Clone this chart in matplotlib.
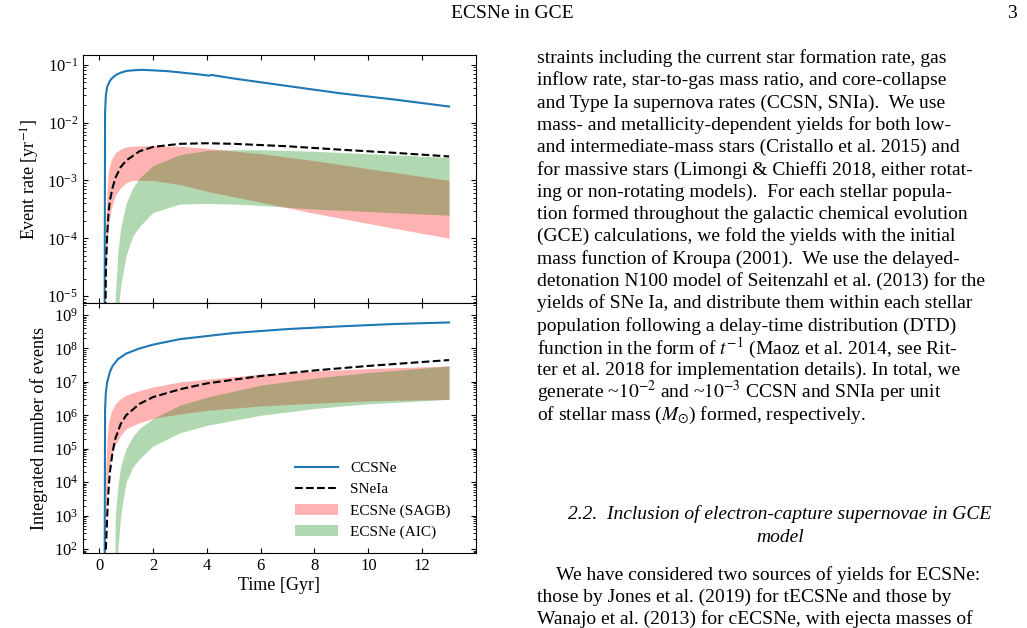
import numpy as np
import matplotlib
matplotlib.use("Agg")
import matplotlib.pyplot as plt
from matplotlib.ticker import LogLocator, NullFormatter

plt.rcParams['font.family'] = ['Liberation Serif', 'DejaVu Serif']
plt.rcParams['mathtext.fontset'] = 'stix'

# ---- data ----
cc_t = [0.2, 0.22, 0.25, 0.3, 0.4, 0.5, 0.65, 0.8, 1.0, 1.2, 1.6, 2.5, 3.5, 4.1, 4.15, 5, 7, 9, 11, 13]
cc_r = [1e-6, 1.5e-2, 3e-2, 4.2e-2, 5.3e-2, 6e-2, 6.8e-2, 7.3e-2, 7.8e-2, 8e-2, 8.2e-2, 7.8e-2, 7e-2, 6.5e-2, 6.7e-2, 5.8e-2, 4.3e-2, 3.2e-2, 2.5e-2, 1.9e-2]
ia_t = [0.22, 0.25, 0.3, 0.35, 0.4, 0.5, 0.6, 0.8, 1.0, 1.5, 2.0, 3.0, 4.0, 5.0, 7.0, 9.0, 11.0, 13.0]
ia_r = [1e-6, 3e-5, 1.2e-4, 2.8e-4, 4.5e-4, 7.5e-4, 1.1e-3, 1.7e-3, 2.2e-3, 3.2e-3, 3.8e-3, 4.3e-3, 4.4e-3, 4.3e-3, 3.9e-3, 3.4e-3, 3.0e-3, 2.6e-3]
sagb_t = [0.2, 0.22, 0.25, 0.3, 0.35, 0.45, 0.6, 0.8, 1.0, 1.2, 2, 3, 4, 6, 8, 10, 13]
sagb_hi = [1e-6, 1e-5, 2e-4, 8e-4, 1.5e-3, 2.3e-3, 3e-3, 3.5e-3, 3.8e-3, 3.9e-3, 4e-3, 3.9e-3, 3.6e-3, 2.9e-3, 2.2e-3, 1.6e-3, 1e-3]
sagb_lo = [1e-6, 3e-6, 2e-5, 8e-5, 1.7e-4, 3.3e-4, 5.5e-4, 7.5e-4, 9e-4, 1e-3, 1e-3, 8.5e-4, 6.5e-4, 4.2e-4, 2.7e-4, 1.8e-4, 1e-4]
aic_t = [0.55, 0.6, 0.7, 0.8, 1.0, 1.25, 1.5, 2, 3, 4, 5, 6, 8, 10, 13]
aic_hi = [1e-6, 1e-5, 6e-5, 1.5e-4, 4e-4, 7.5e-4, 1.1e-3, 1.8e-3, 2.8e-3, 3.3e-3, 3.4e-3, 3.4e-3, 3.2e-3, 2.9e-3, 2.5e-3]
aic_lo = [1e-6, 1e-6, 5e-6, 1.5e-5, 5e-5, 1.1e-4, 1.6e-4, 2.8e-4, 3.9e-4, 4e-4, 3.9e-4, 3.7e-4, 3.2e-4, 2.9e-4, 2.5e-4]

ccN_t = [0.2, 0.22, 0.25, 0.3, 0.4, 0.5, 0.7, 1, 1.5, 2, 3, 5, 7, 9, 11, 13]
ccN = [1, 1.5e6, 5e6, 1e7, 2e7, 3e7, 4.8e7, 7e7, 1e8, 1.3e8, 1.9e8, 2.9e8, 3.8e8, 4.6e8, 5.4e8, 6e8]
iaN_t = [0.23, 0.25, 0.3, 0.35, 0.4, 0.5, 0.6, 0.8, 1, 1.5, 2, 3, 4, 6, 8, 10, 13]
iaN = [1, 1e2, 1e3, 6e3, 2e4, 8e4, 2e5, 5.5e5, 1e6, 2.2e6, 3.5e6, 6e6, 9e6, 1.5e7, 2.2e7, 3e7, 4.5e7]
sagbN_t = [0.2, 0.22, 0.25, 0.3, 0.35, 0.45, 0.6, 0.8, 1, 1.5, 2, 3, 4, 6, 8, 10, 13]
sagbN_hi = [1, 1e3, 3e4, 2.5e5, 6e5, 1.3e6, 2.2e6, 3.2e6, 4e6, 5.5e6, 7e6, 1e7, 1.2e7, 1.7e7, 2.1e7, 2.5e7, 3e7]
sagbN_lo = [1, 1e1, 1e3, 7e3, 2e4, 6e4, 1.3e5, 2.5e5, 4e5, 6e5, 8e5, 1.1e6, 1.4e6, 1.9e6, 2.3e6, 2.7e6, 3e6]
aicN_t = [0.55, 0.6, 0.7, 0.8, 1, 1.25, 1.5, 2, 3, 4, 6, 8, 10, 13]
aicN_hi = [1, 1e3, 8e3, 3e4, 1e5, 2.3e5, 4e5, 8e5, 2e6, 3.5e6, 8e6, 1.3e7, 1.9e7, 3e7]
aicN_lo = [1, 1, 1e2, 1e3, 1e4, 2.8e4, 5e4, 1.2e5, 3e5, 5e5, 1e6, 1.6e6, 2.2e6, 3e6]

fig = plt.figure(figsize=(10.27, 6.28), dpi=100)
W, H = 1027, 628
def ax_rect(x0, y0, x1, y1):
    return [x0 / W, 1 - y1 / H, (x1 - x0) / W, (y1 - y0) / H]

ax1 = fig.add_axes(ax_rect(83, 55, 476, 303))
ax2 = fig.add_axes(ax_rect(83, 303, 476, 553), sharex=ax1)

red = (1, 0, 0, 0.3)
green = (0, 0.5, 0, 0.3)
for ax, (ct, c), (it, i), (st, sh, sl), (at, ah, al) in [
    (ax1, (cc_t, cc_r), (ia_t, ia_r), (sagb_t, sagb_hi, sagb_lo), (aic_t, aic_hi, aic_lo)),
    (ax2, (ccN_t, ccN), (iaN_t, iaN), (sagbN_t, sagbN_hi, sagbN_lo), (aicN_t, aicN_hi, aicN_lo))]:
    ax.fill_between(st, sl, sh, color=red, lw=0, label='ECSNe (SAGB)')
    ax.fill_between(at, al, ah, color=green, lw=0, label='ECSNe (AIC)')
    ax.plot(ct, c, color='#1f77b4', lw=1.5, label='CCSNe')
    ax.plot(it, i, 'k--', lw=1.5, label='SNeIa')
    ax.set_yscale('log')
    ax.yaxis.set_major_locator(LogLocator(base=10, numticks=20))
    ax.yaxis.set_minor_locator(LogLocator(base=10, subs=np.arange(2, 10), numticks=20))
    ax.yaxis.set_minor_formatter(NullFormatter())
    ax.tick_params(direction='in', which='both', top=True, right=True, labelsize=12)

ax1.set_xlim(-0.6, 14)
ax1.set_ylim(10**-5.12, 10**-0.83)
ax2.set_ylim(10**1.88, 10**9.36)
ax2.set_xticks([0, 2, 4, 6, 8, 10, 12])
plt.setp(ax1.get_xticklabels(), visible=False)
ax1.set_ylabel(r'Event rate [yr$^{-1}$]', fontsize=13)
ax2.set_ylabel('Integrated number of events', fontsize=13)
ax2.set_xlabel('Time [Gyr]', fontsize=13, labelpad=2)
h, l = ax2.get_legend_handles_labels()
order = [2, 3, 0, 1]
ax2.legend([h[k] for k in order], [l[k] for k in order], loc='lower right',
           frameon=False, fontsize=11, handlelength=2.8, bbox_to_anchor=(0.97, 0.0))

# ---- page text ----
fig.text(512 / W, 1 - 14 / H, 'ECSNe in GCE', ha='center', va='center', fontsize=14)
fig.text(1017 / W, 1 - 14 / H, '3', ha='right', va='center', fontsize=14)

lines = [
    (58, "straints including the current star formation rate, gas"),
    (80, "inflow rate, star-to-gas mass ratio, and core-collapse"),
    (103, "and Type Ia supernova rates (CCSN, SNIa).  We use"),
    (125, "mass- and metallicity-dependent yields for both low-"),
    (147, "and intermediate-mass stars (Cristallo et al. 2015) and"),
    (170, "for massive stars (Limongi & Chieffi 2018, either rotat-"),
    (192, "ing or non-rotating models).  For each stellar popula-"),
    (214, "tion formed throughout the galactic chemical evolution"),
    (236, "(GCE) calculations, we fold the yields with the initial"),
    (259, "mass function of Kroupa (2001).  We use the delayed-"),
    (281, "detonation N100 model of Seitenzahl et al. (2013) for the"),
    (303, "yields of SNe Ia, and distribute them within each stellar"),
    (326, "population following a delay-time distribution (DTD)"),
    (348, "function in the form of $t^{-1}$ (Maoz et al. 2014, see Rit-"),
    (370, "ter et al. 2018 for implementation details). In total, we"),
    (392, "generate ~$10^{-2}$ and ~$10^{-3}$ CCSN and SNIa per unit"),
    (415, "of stellar mass ($M_{\\odot}$) formed, respectively."),
    (575, "    We have considered two sources of yields for ECSNe:"),
    (597, "those by Jones et al. (2019) for tECSNe and those by"),
    (619, "Wanajo et al. (2013) for cECSNe, with ejecta masses of"),
]
for y, s in lines:
    fig.text(537 / W, 1 - y / H, s, ha='left', va='center', fontsize=14)
fig.text(780 / W, 1 - 514 / H, "2.2.  Inclusion of electron-capture supernovae in GCE",
         ha='center', va='center', fontsize=14, style='italic')
fig.text(780 / W, 1 - 537 / H, "model", ha='center', va='center', fontsize=14, style='italic')

fig.savefig('out.png', dpi=100)
